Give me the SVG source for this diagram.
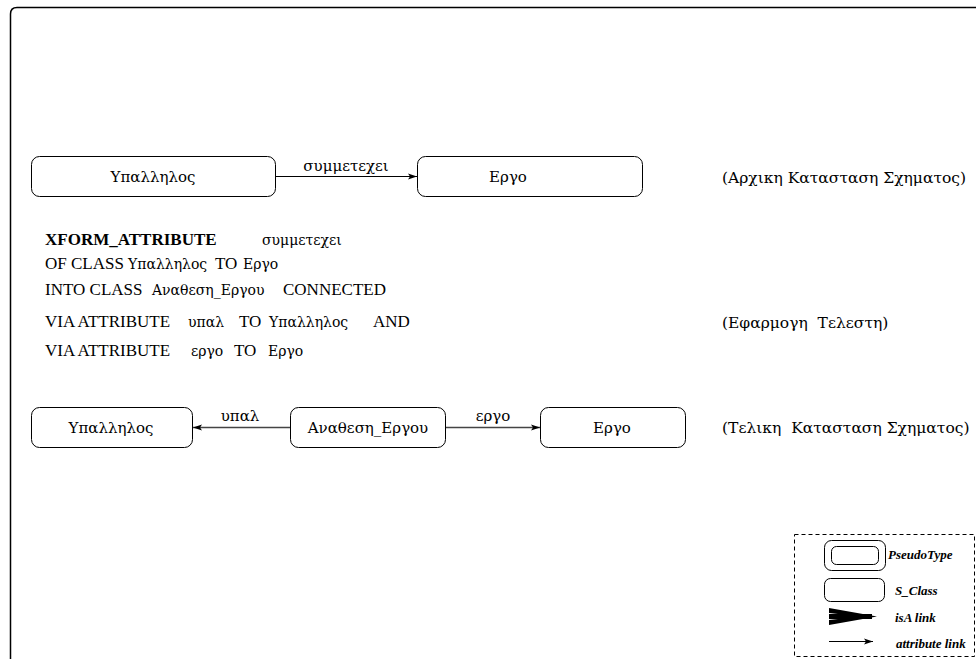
<svg xmlns="http://www.w3.org/2000/svg" width="976" height="659" viewBox="0 0 976 659">
  <style>
    .frame { fill: none; stroke: #000; stroke-width: 1.5; }
    .box { fill: #fff; stroke: #000; stroke-width: 1; }
    .t { font-family: "Liberation Serif", "Times New Roman", serif; font-size: 17px; fill: #000; }
    .g { font-family: "DejaVu Serif", "Liberation Serif", serif; font-size: 15px; fill: #000; }
    .gs { font-family: "DejaVu Serif", "Liberation Serif", serif; font-size: 14px; }
    .cap { font-family: "DejaVu Serif", "Liberation Serif", serif; font-size: 15.5px; fill: #000; }
    .mid { text-anchor: middle; }
    .b { font-weight: bold; }
    .edge { fill: none; stroke: #000; stroke-width: 1; }
    .edge2 { fill: none; stroke: #444; stroke-width: 1.6; }
    .leg { font-family: "Liberation Serif", "Times New Roman", serif; font-size: 13px; font-style: italic; font-weight: bold; fill: #000; }
    .dash { fill: none; stroke: #000; stroke-width: 1; stroke-dasharray: 4 3; }
  </style>
  <defs>
    <marker id="arr" markerWidth="10" markerHeight="8" refX="9" refY="4" orient="auto" markerUnits="userSpaceOnUse">
      <path d="M0,1 L9,4 L0,7 L2,4 Z" fill="#000"/>
    </marker>
  </defs>

  <rect width="976" height="659" fill="#fff"/>

  <!-- outer page frame -->
  <path class="frame" d="M10.5,670 V14 Q10.5,7.5 17,7.5 H990"/>

  <!-- initial schema -->
  <g id="n-ypallilos-1">
    <rect class="box" x="31.5" y="156.5" width="244" height="40" rx="8"/>
    <text class="g mid" x="153" y="182">Υπαλληλος</text>
  </g>
  <g id="n-ergo-1">
    <rect class="box" x="417.5" y="156.5" width="225" height="40" rx="8"/>
    <text class="g mid" x="508" y="182">Εργο</text>
  </g>

  <!-- final schema -->
  <g id="n-ypallilos-2">
    <rect class="box" x="31.5" y="407.5" width="161" height="40" rx="8"/>
    <text class="g mid" x="111" y="433">Υπαλληλος</text>
  </g>
  <g id="n-anathesi">
    <rect class="box" x="290.5" y="407.5" width="155" height="40" rx="8"/>
    <text class="g mid" x="368" y="433">Αναθεση_Εργου</text>
  </g>
  <g id="n-ergo-2">
    <rect class="box" x="540.5" y="407.5" width="145" height="40" rx="8"/>
    <text class="g mid" x="612" y="433">Εργο</text>
  </g>

  <g id="connectors">
    <line class="edge" x1="275.5" y1="176.5" x2="417" y2="176.5" marker-end="url(#arr)"/>
    <text class="g mid" x="346" y="171">συμμετεχει</text>
    <line class="edge2" x1="290" y1="427.5" x2="193" y2="427.5" marker-end="url(#arr)"/>
    <text class="g mid" x="240" y="421">υπαλ</text>
    <line class="edge2" x1="446" y1="427.5" x2="540" y2="427.5" marker-end="url(#arr)"/>
    <text class="g mid" x="493" y="421">εργο</text>
  </g>

  <!-- operator text -->
  <g id="operator">
    <text class="t b" x="45" y="245">XFORM_ATTRIBUTE</text>
    <text class="t" y="245"><tspan class="gs" x="262">συμμετεχει</tspan></text>
    <text class="t" y="269"><tspan x="45">OF CLASS</tspan><tspan class="gs" x="128">Υπαλληλος</tspan><tspan x="215">TO</tspan><tspan class="gs" x="243">Εργο</tspan></text>
    <text class="t" y="295"><tspan x="45">INTO CLASS</tspan><tspan class="gs" x="152">Αναθεση_Εργου</tspan><tspan x="283">CONNECTED</tspan></text>
    <text class="t" y="327"><tspan x="45">VIA ATTRIBUTE</tspan><tspan class="gs" x="188">υπαλ</tspan><tspan x="239">TO</tspan><tspan class="gs" x="269">Υπαλληλος</tspan><tspan x="373">AND</tspan></text>
    <text class="t" y="356"><tspan x="45">VIA ATTRIBUTE</tspan><tspan class="gs" x="191">εργο</tspan><tspan x="234">TO</tspan><tspan class="gs" x="268">Εργο</tspan></text>
  </g>

  <!-- stage captions -->
  <g id="captions">
    <text class="cap" x="722" y="183">(Αρχικη Κατασταση Σχηματος)</text>
    <text class="cap" x="722" y="328" xml:space="preserve">(Εφαρμογη  Τελεστη)</text>
    <text class="cap" x="722" y="433" xml:space="preserve">(Τελικη  Κατασταση Σχηματος)</text>
  </g>

  <!-- legend -->
  <g id="legend">
    <rect class="dash" x="794.5" y="534.5" width="180" height="122"/>
    <rect class="box" x="824.5" y="540.5" width="61" height="30" rx="7"/>
    <rect class="box" x="831.5" y="546.5" width="47" height="18" rx="5"/>
    <text class="leg" x="888" y="559">PseudoType</text>
    <rect class="box" x="824.5" y="578.5" width="60" height="23" rx="6"/>
    <text class="leg" x="895" y="595">S_Class</text>
    <path d="M829,608 L877,616.5 L829,625 L829,620 L860,616.5 L829,613 Z" fill="#000"/>
    <line x1="829" y1="616.5" x2="872" y2="616.5" stroke="#000" stroke-width="5"/>
    <text class="leg" x="895" y="622">isA link</text>
    <line class="edge" x1="829" y1="641.5" x2="873" y2="641.5" marker-end="url(#arr)"/>
    <text class="leg" x="896" y="648">attribute link</text>
  </g>
</svg>
